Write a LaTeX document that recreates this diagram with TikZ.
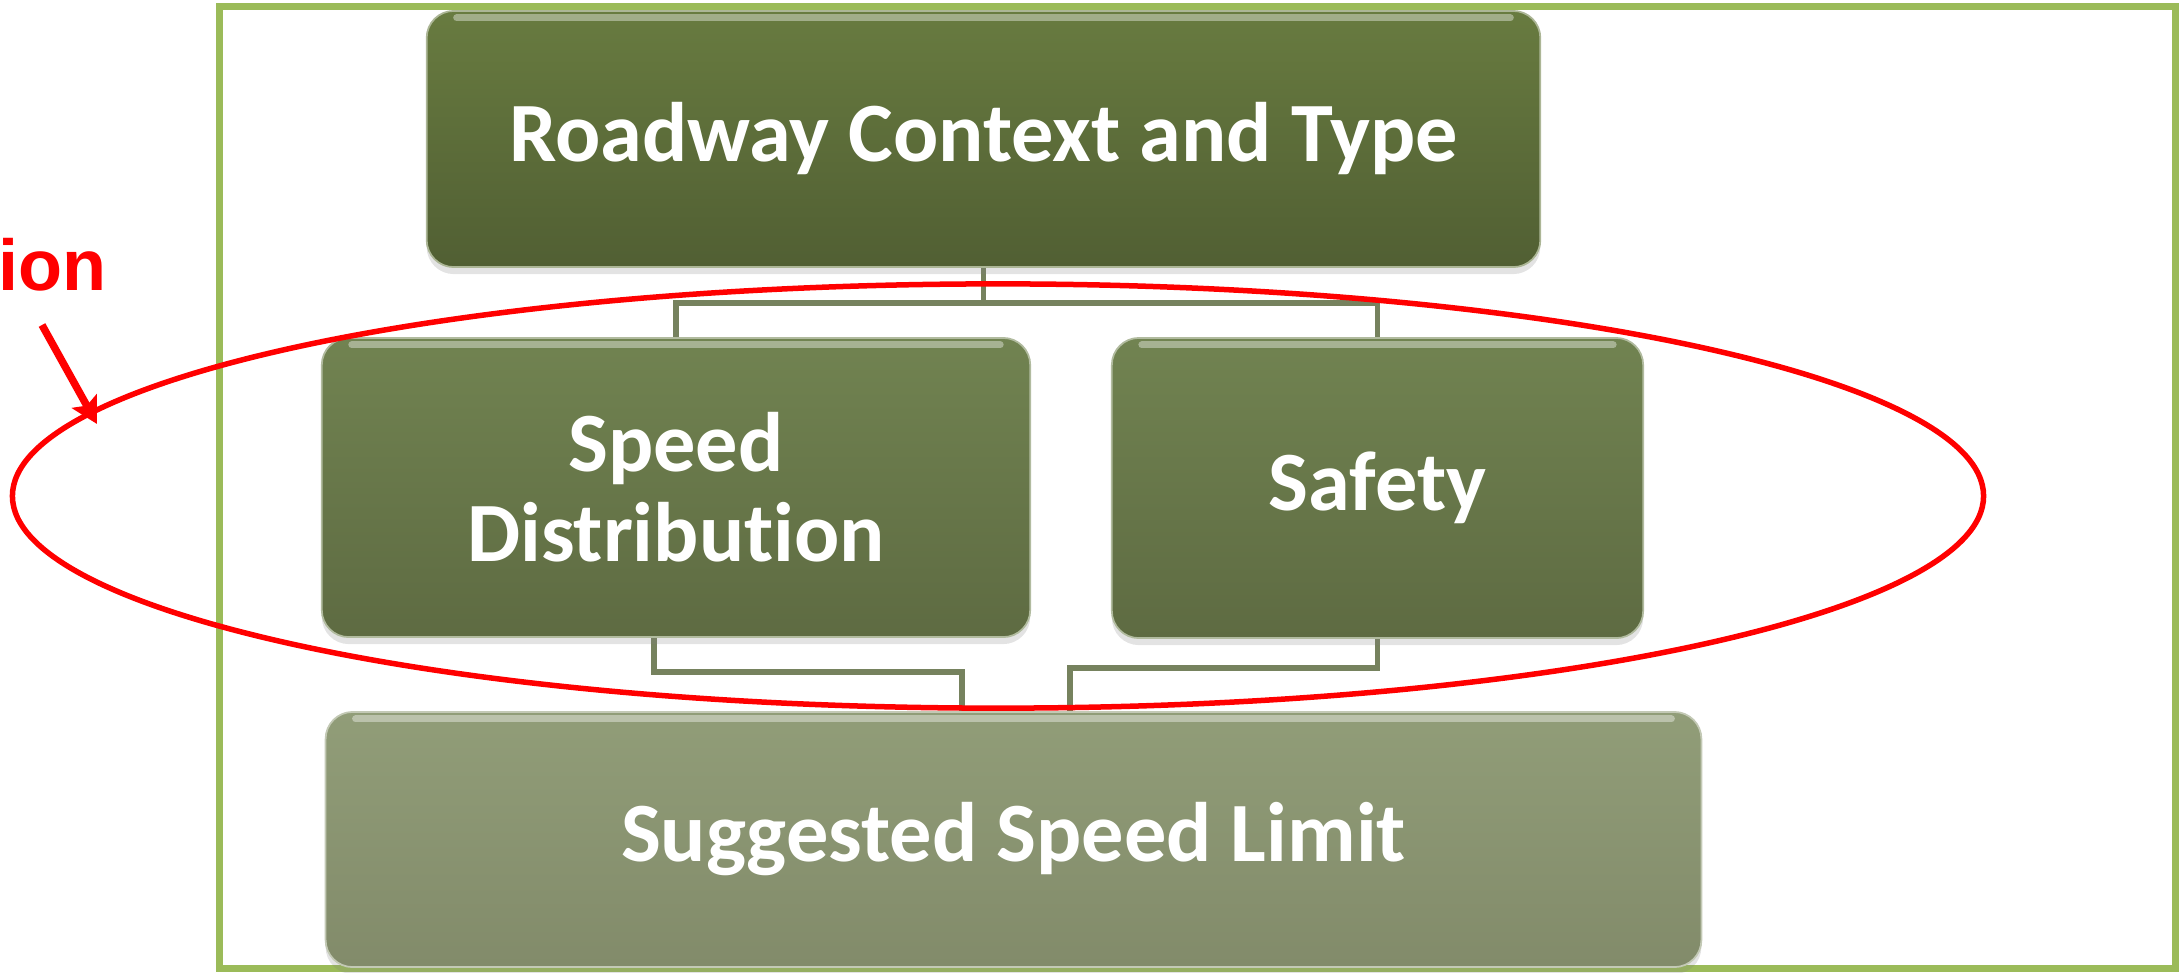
\documentclass[tikz,border=0pt]{standalone}
\usepackage{fontspec}
\setmainfont{Carlito}[Ligatures=NoCommon]
\newfontfamily\notefont{Liberation Sans}
\usetikzlibrary{shadows,backgrounds,arrows.meta}

\definecolor{framegreen}{HTML}{9BBB59}
\definecolor{linkgreen}{HTML}{76825E}
\definecolor{darktop}{HTML}{687B40}
\definecolor{darkbot}{HTML}{515F33}
\definecolor{midtop}{HTML}{718351}
\definecolor{midbot}{HTML}{5E6B42}
\definecolor{palettop}{HTML}{919D78}
\definecolor{palebot}{HTML}{828B6A}

\tikzset{
  tile/.style={rounded corners=0.27cm, align=center, text=white, inner sep=0pt,
    font=\fontsize{24}{25.5}\selectfont\bfseries, shading angle=0,
    draw=#1!55!white, line width=0.5pt,
    drop shadow={opacity=0.22, shadow xshift=0pt, shadow yshift=-0.07cm},
    path picture={
      \draw[#1!30!white, line width=2pt, opacity=.55, line cap=round]
        ([xshift=0.3cm,yshift=-0.07cm]path picture bounding box.north west)
        -- ([xshift=-0.3cm,yshift=-0.07cm]path picture bounding box.north east);
    }},
  link/.style={draw=linkgreen, line width=0.055cm},
  mark red/.style={draw=red, line width=#1},
}

\begin{document}
\begin{tikzpicture}[x=0.01cm, y=-0.01cm]
  \useasboundingbox (0,0) rectangle (2182,972);

  % boxes
  \node[tile=darktop, top color=darktop, bottom color=darkbot,
        minimum width=11.13cm, minimum height=2.56cm] (roadway) at (983.5,139)
        {Roadway Context and Type};
  \node[tile=midtop, top color=midtop, bottom color=midbot,
        minimum width=7.08cm, minimum height=2.99cm] (speeddist) at (676,487.5)
        {Speed\\Distribution};
  \node[tile=midtop, top color=midtop, bottom color=midbot,
        minimum width=5.31cm, minimum height=3.0cm] (safety) at (1377.5,488)
        {Safety};
  \node[tile=palettop, top color=palettop, bottom color=palebot,
        minimum width=13.75cm, minimum height=2.55cm] (suggested) at (1013.5,839.5)
        {Suggested Speed Limit};

  \begin{scope}[on background layer]
    \draw[framegreen, line width=0.07cm] (219,6) rectangle (2175,968);

    \coordinate (split) at (roadway.south |- 0,303);
    \draw[link] (roadway.south) -- (split) -| (speeddist.north);
    \draw[link] (split) -| (safety.north);

    \coordinate (lbend) at (962,672);
    \coordinate (rbend) at (1070,668);
    \draw[link] (speeddist.south -| 654,0) |- (lbend) -- (lbend |- suggested.north);
    \draw[link] (safety.south) |- (rbend) -- (rbend |- suggested.north);
  \end{scope}

  % red mark-up
  \draw[mark red=0.055cm] (998,496) ellipse [x radius=9.85cm, y radius=2.12cm];
  \node[anchor=base west, inner sep=0pt, text=red,
        font=\notefont\bfseries\fontsize{20.5}{20.5}\selectfont] (note) at (-2,290) {ion};
  \coordinate (tail) at (42,325);
  \coordinate (tip) at (97,424);
  \draw[mark red=0.075cm, -{Stealth[length=0.26cm, width=0.28cm, inset=0.05cm]}] (tail) -- (tip);
\end{tikzpicture}
\end{document}
